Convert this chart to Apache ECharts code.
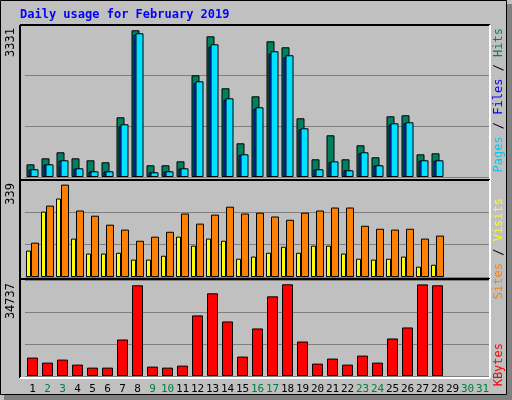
<!DOCTYPE html>
<html><head><meta charset="utf-8">
<script src="https://cdn.jsdelivr.net/npm/echarts@6/dist/echarts.min.js"></script>
<style>html,body{margin:0;padding:0;background:#c0c0c0}#c{width:512px;height:400px}</style>
</head><body><div id="c"></div>
<script>
const days = ['1','2','3','4','5','6','7','8','9','10','11','12','13','14','15','16','17','18','19','20','21','22','23','24','25','26','27','28','29','30','31'];
const weekend = ['2','3','9','10','16','17','23','24','30','31'];
const hits = [288,424,561,424,379,334,1355,3331,266,266,356,2309,3194,2014,765,1832,3081,2945,1333,402,947,402,720,447,1378,1401,515,538,null,null,null];
const files = [170,280,370,190,125,125,1150,3230,105,125,190,2130,2960,1750,500,1550,2800,2720,1080,170,340,150,540,260,1190,1220,370,370,null,null,null];
const pages = [175,288,379,197,129,129,1197,3263,107,129,197,2173,3013,1787,515,1583,2854,2764,1106,175,356,152,561,266,1219,1242,379,379,null,null,null];
const visits = [97,240,288,141,86,86,89,64,64,78,148,115,141,133,67,75,89,111,89,115,115,86,67,64,67,75,38,45,null,null,null];
const sites = [126,262,339,244,225,192,174,133,148,166,233,196,229,258,233,236,222,210,236,244,255,255,188,177,174,177,141,152,null,null,null];
const kbytes = [6974,5072,6213,4311,3170,3170,13821,34357,3550,3170,3931,22951,31320,20668,7354,18006,30178,34737,13060,4692,6594,4311,7735,5072,14202,18386,34700,34357,null,null,null];
const maxLabels = ['3331','339','34737'];

const chart = echarts.init(document.getElementById('c'), null, {renderer:'canvas'});
const mono = 'DejaVu Sans Mono';
const grids = [
  {left:25, width:465, top:25, height:152},
  {left:25, width:465, top:180, height:97},
  {left:25, width:465, top:280, height:96}
];
const maxes = [3451, 356, 36366];
function xa(i){return {type:'category', gridIndex:i, data:days, boundaryGap:true,
  axisLine:{show:false}, axisTick:{show:false},
  axisLabel:{show:i===2, interval:0, margin:8, fontFamily:mono, fontSize:11,
    color:(v)=>weekend.includes(v)?'#008040':'#000'}};}
function ya(i){return {type:'value', gridIndex:i, min:0, max:maxes[i], interval:maxes[i]/3,
  axisLabel:{show:false}, axisLine:{show:false}, axisTick:{show:false},
  splitLine:{show:true, lineStyle:{color:'#808080', width:1}}};}
const bs = {borderColor:'#000', borderWidth:1};
function frame(x,y,w,h){return [
  {type:'line', shape:{x1:x,y1:y,x2:x+w,y2:y}, style:{stroke:'#000',lineWidth:2}, z:50},
  {type:'line', shape:{x1:x,y1:y,x2:x,y2:y+h}, style:{stroke:'#000',lineWidth:2}, z:50},
  {type:'line', shape:{x1:x,y1:y+h,x2:x+w,y2:y+h}, style:{stroke:'#fff',lineWidth:2}, z:50},
  {type:'line', shape:{x1:x+w,y1:y,x2:x+w,y2:y+h}, style:{stroke:'#fff',lineWidth:2}, z:50}
];}
const f = {fontFamily:mono, fontSize:12};
const rich = {
  pg:Object.assign({fill:'#00c8f0'},f), fl:Object.assign({fill:'#0000ff'},f),
  ht:Object.assign({fill:'#008060'},f), bk:Object.assign({fill:'#000'},f),
  st:Object.assign({fill:'#ff8000'},f), vs:Object.assign({fill:'#ffff00'},f),
  kb:Object.assign({fill:'#ff0000'},f)
};
function rtext(y, txt){return {type:'text', x:499, y:y, rotation:Math.PI/2, z:60,
  style:{text:txt, rich:rich, font:'12px '+mono, align:'right', verticalAlign:'middle'}};}
chart.setOption({
  backgroundColor:'#c0c0c0',
  animation:false,
  grid:grids,
  xAxis:[xa(0),xa(1),xa(2)],
  yAxis:[ya(0),ya(1),ya(2)],
  series:[
    {type:'bar', xAxisIndex:0, yAxisIndex:0, data:hits, barWidth:8, barGap:'-75%', barCategoryGap:'0%', itemStyle:Object.assign({color:'#008060'},bs)},
    {type:'bar', xAxisIndex:0, yAxisIndex:0, data:files, barWidth:8, barGap:'-75%', itemStyle:Object.assign({color:'#0040ff'},bs)},
    {type:'bar', xAxisIndex:0, yAxisIndex:0, data:pages, barWidth:8, barGap:'-75%', itemStyle:Object.assign({color:'#00e0ff'},bs)},
    {type:'bar', xAxisIndex:1, yAxisIndex:1, data:visits, barWidth:5, barGap:'0%', itemStyle:Object.assign({color:'#ffff00'},bs)},
    {type:'bar', xAxisIndex:1, yAxisIndex:1, data:sites, barWidth:8, barGap:'0%', itemStyle:Object.assign({color:'#ff8000'},bs)},
    {type:'bar', xAxisIndex:2, yAxisIndex:2, data:kbytes, barWidth:11, itemStyle:Object.assign({color:'#ff0000'},bs)}
  ],
  graphic:[
    {type:'rect', shape:{x:0.5,y:0.5,width:506,height:394}, style:{fill:null,stroke:'#000',lineWidth:1}, z:40},
    {type:'rect', shape:{x:507,y:4,width:5,height:396}, style:{fill:'#808080'}, z:40},
    {type:'rect', shape:{x:4,y:395,width:508,height:5}, style:{fill:'#808080'}, z:40},
    {type:'text', x:20, y:9, z:60, style:{text:'Daily usage for February 2019', font:'bold 12px '+mono, fill:'#0000ff'}},
    ...frame(20,25,470,155), ...frame(20,180,470,99), ...frame(20,279,470,99),
    {type:'text', x:5, y:28, rotation:Math.PI/2, z:60, style:{text:maxLabels[0], font:'12px '+mono, fill:'#000', align:'right', verticalAlign:'top'}},
    {type:'text', x:5, y:183, rotation:Math.PI/2, z:60, style:{text:maxLabels[1], font:'12px '+mono, fill:'#000', align:'right', verticalAlign:'top'}},
    {type:'text', x:5, y:283, rotation:Math.PI/2, z:60, style:{text:maxLabels[2], font:'12px '+mono, fill:'#000', align:'right', verticalAlign:'top'}},
    rtext(28, '{pg|Pages}{bk| / }{fl|Files}{bk| / }{ht|Hits}'),
    rtext(198, '{st|Sites}{bk| / }{vs|Visits}'),
    rtext(343, '{kb|KBytes}')
  ]
});
</script></body></html>
